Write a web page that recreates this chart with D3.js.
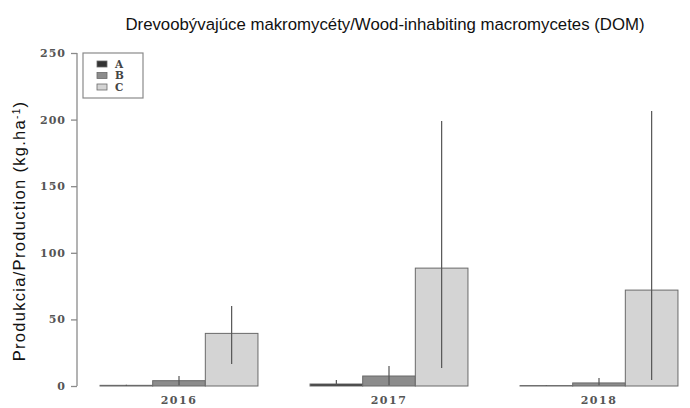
<!DOCTYPE html>
<html>
<head>
<meta charset="utf-8">
<script src="https://cdn.jsdelivr.net/npm/d3@7"></script>
<style>
  body { margin: 0; background: #fff; }
  .tick text { font-family: "DejaVu Serif", serif; font-weight: bold; fill: #555; }
</style>
</head>
<body>
<div class="chart"></div>
<script>
// data
var years = ["2016", "2017", "2018"]
var groups = ["A", "B", "C"]
var meanA = [0.5, 1.5, 0.3]
var meanB = [4, 7.5, 2.3]
var meanC = [39.5, 88.5, 72]
var lowA = [0.2, 0.5, 0.1]
var highA = [1, 4.5, 0.6]
var lowB = [0.5, 0.5, 0.5]
var highB = [7.5, 15, 6]
var lowC = [16.5, 13.5, 4.5]
var highC = [60, 199, 206.5]
var yTicks = [0, 50, 100, 150, 200, 250]

var colors = {A: "#333333", B: "#8c8c8c", C: "#d4d4d4"}

let svg = d3.select('div.chart').append('svg')
  .attr("width", 690).attr("height", 408)

var rows = []
years.forEach((y, i) => {
  rows.push({year: y, g: "A", v: meanA[i], lo: lowA[i], hi: highA[i]})
  rows.push({year: y, g: "B", v: meanB[i], lo: lowB[i], hi: highB[i]})
  rows.push({year: y, g: "C", v: meanC[i], lo: lowC[i], hi: highC[i]})
})

// scales
let x = d3.scaleBand().domain(years).range([74, 704]).paddingInner(0.248).paddingOuter(0.124)
let xs = d3.scaleBand().domain(groups).range([0, x.bandwidth()])
let yScale = d3.scaleLinear().domain([0, 250]).range([386, 53])

// y axis
let yAxis = svg.append('g')
  .attr("transform", "translate(77,0)")
  .call(d3.axisLeft(yScale).tickValues(yTicks).tickSize(6).tickPadding(5))
yAxis.selectAll("path, line").attr("stroke", "#8a8a8a").attr("stroke-width", 1.3)
yAxis.select("path").attr("d", "M0," + yScale(250) + "V" + yScale(0))
yAxis.selectAll("text").style("font-size", "11px").style("letter-spacing", "1px")

// x axis (labels only)
let xAxis = svg.append('g')
  .attr("transform", "translate(0,393)")
  .call(d3.axisBottom(x).tickSize(0).tickPadding(3))
xAxis.select("path").remove()
xAxis.selectAll("text").style("font-size", "11px").style("letter-spacing", "1.5px")

// bars
svg.append('g').selectAll('rect')
  .data(rows).enter().append('rect')
  .attr('x', d => x(d.year) + xs(d.g))
  .attr('width', xs.bandwidth())
  .attr('y', d => yScale(d.v))
  .attr('height', d => yScale(0) - yScale(d.v))
  .attr('fill', d => colors[d.g])
  .attr('stroke', "#6a6a6a")
  .attr('stroke-width', 1)

// error bars
svg.append('g').selectAll('line')
  .data(rows).enter().append('line')
  .attr('x1', d => x(d.year) + xs(d.g) + xs.bandwidth() / 2)
  .attr('x2', d => x(d.year) + xs(d.g) + xs.bandwidth() / 2)
  .attr('y1', d => yScale(d.lo))
  .attr('y2', d => yScale(d.hi))
  .attr('stroke', "#555")
  .attr('stroke-width', 1.2)

// legend
svg.append('rect')
  .attr('x', 83).attr('y', 53).attr('width', 60).attr('height', 45)
  .attr('fill', "#fff").attr('stroke', "#8a8a8a").attr('stroke-width', 1.2)

let leg = svg.append('g').selectAll('g')
  .data(groups).enter().append('g')
  .attr("transform", (d, i) => "translate(97," + (61 + i * 11.5) + ")")
leg.append('rect')
  .attr('width', 10).attr('height', 6)
  .attr('fill', d => colors[d]).attr('stroke', "#6a6a6a").attr('stroke-width', 0.8)
leg.append('text')
  .attr('x', 18).attr('y', 6.5)
  .style("font-family", "DejaVu Serif, serif").style("font-weight", "bold")
  .style("font-size", "10.5px").style("fill", "#444")
  .text(d => d)

// title
svg.append('text')
  .attr('x', 385).attr('y', 30)
  .attr('text-anchor', 'middle')
  .style("font-family", "Liberation Sans, Arial, sans-serif")
  .style("font-size", "16.8px").style("fill", "#111")
  .text("Drevoobývajúce makromycéty/Wood-inhabiting macromycetes (DOM)")

// y label
let yl = svg.append('text')
  .attr("transform", "translate(25,231) rotate(-90)")
  .attr('text-anchor', 'middle')
  .style("font-family", "Liberation Sans, Arial, sans-serif")
  .style("font-size", "16.5px").style("fill", "#111")
  .style("letter-spacing", "1.3px")
yl.append('tspan').text("Produkcia/Production (kg.ha")
yl.append('tspan').attr('baseline-shift', 'super').style("font-size", "10px").text("-1")
yl.append('tspan').text(")")
</script>
</body>
</html>
